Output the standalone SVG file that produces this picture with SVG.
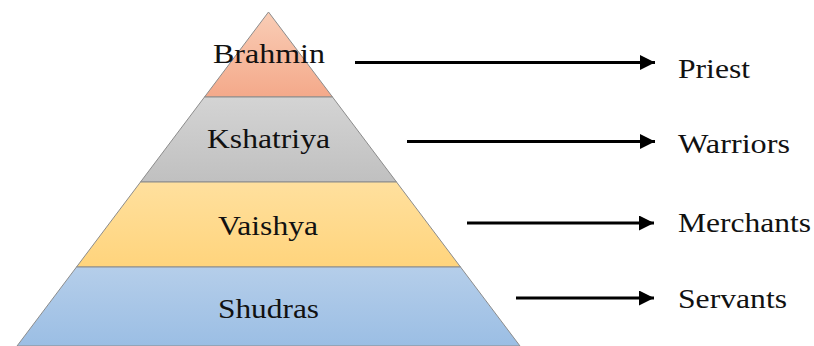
<svg xmlns="http://www.w3.org/2000/svg" width="814" height="346" viewBox="0 0 814 346">
<defs>
<linearGradient id="gB" x1="0" y1="0" x2="0" y2="1"><stop offset="0" stop-color="#F9CDB6"/><stop offset="1" stop-color="#F4A98A"/></linearGradient>
<linearGradient id="gK" x1="0" y1="0" x2="0" y2="1"><stop offset="0" stop-color="#D4D4D4"/><stop offset="1" stop-color="#C0C0C0"/></linearGradient>
<linearGradient id="gV" x1="0" y1="0" x2="0" y2="1"><stop offset="0" stop-color="#FFE09E"/><stop offset="1" stop-color="#FFD47C"/></linearGradient>
<linearGradient id="gS" x1="0" y1="0" x2="0" y2="1"><stop offset="0" stop-color="#B5CEEA"/><stop offset="1" stop-color="#9BBEE4"/></linearGradient>
<marker id="ah" viewBox="0 0 10 10" refX="10" refY="5" markerWidth="5" markerHeight="5" markerUnits="strokeWidth" orient="auto"><path d="M0,0 L10,5 L0,10 z" fill="#000"/></marker>
</defs>
<style>
.lay{stroke:#8C8C8C;stroke-width:1}
.t{font-family:"Liberation Serif","Times New Roman",serif;font-size:27px;fill:#111}
.c{stroke:#000;stroke-width:3;fill:none;marker-end:url(#ah)}
</style>
<rect width="814" height="346" fill="#fff"/>
<g id="brahmin"><path class="lay" d="M268.5,12 L332.5,97 L204.5,97 Z" fill="url(#gB)"/><text class="t" x="213" y="63" textLength="112" lengthAdjust="spacingAndGlyphs">Brahmin</text></g>
<g id="kshatriya"><path class="lay" d="M204.5,97 L332.5,97 L396.5,182 L140.5,182 Z" fill="url(#gK)"/><text class="t" x="207" y="148" textLength="123" lengthAdjust="spacingAndGlyphs">Kshatriya</text></g>
<g id="vaishya"><path class="lay" d="M140.5,182 L396.5,182 L460.5,267 L76.5,267 Z" fill="url(#gV)"/><text class="t" x="218" y="235" textLength="100" lengthAdjust="spacingAndGlyphs">Vaishya</text></g>
<g id="shudras"><path class="lay" d="M76.5,267 L460.5,267 L520,346 L17,346 Z" fill="url(#gS)"/><text class="t" x="218" y="318" textLength="101" lengthAdjust="spacingAndGlyphs">Shudras</text></g>
<g id="priest"><text class="t" x="678" y="78" textLength="72" lengthAdjust="spacingAndGlyphs">Priest</text></g>
<g id="warriors"><text class="t" x="678" y="153" textLength="112" lengthAdjust="spacingAndGlyphs">Warriors</text></g>
<g id="merchants"><text class="t" x="678" y="232" textLength="133" lengthAdjust="spacingAndGlyphs">Merchants</text></g>
<g id="servants"><text class="t" x="678" y="308" textLength="109" lengthAdjust="spacingAndGlyphs">Servants</text></g>
<g id="connectors">
<line class="c" x1="355" y1="62.5" x2="655" y2="62.5"/>
<line class="c" x1="407" y1="141.5" x2="655" y2="141.5"/>
<line class="c" x1="467" y1="223" x2="654" y2="223"/>
<line class="c" x1="516" y1="298" x2="654" y2="298"/>
</g>
</svg>
